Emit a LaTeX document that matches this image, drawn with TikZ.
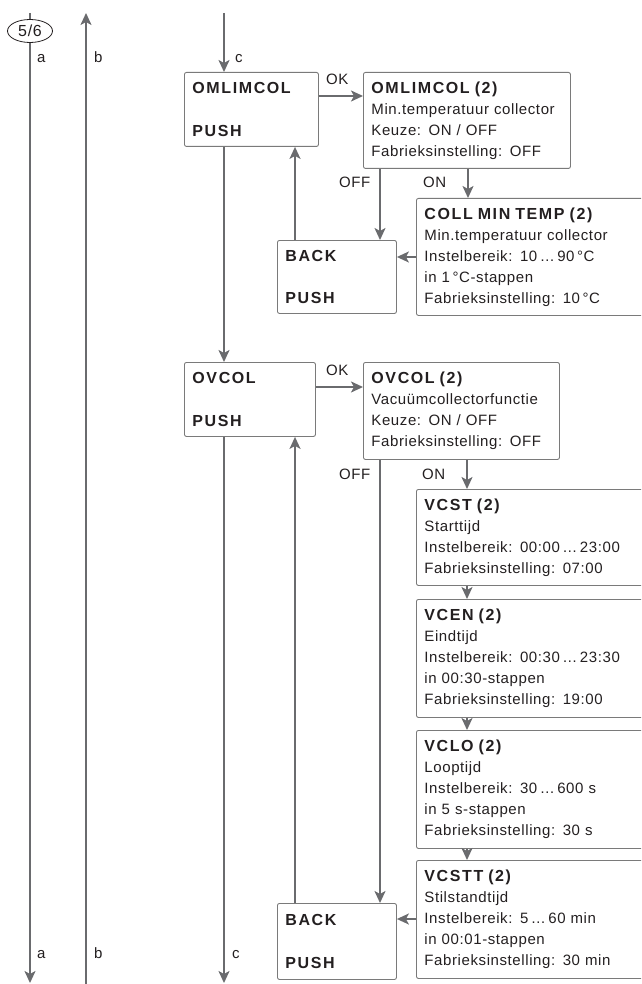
\documentclass[tikz,border=0pt]{standalone}
\usepackage{fontspec}
\setmainfont{Liberation Sans}[LetterSpace=4]
\newfontfamily\hdfont{Liberation Sans}[LetterSpace=10]
\usetikzlibrary{arrows.meta,shapes.geometric}
\definecolor{linegray}{HTML}{6A6B6E}
\definecolor{boxgray}{HTML}{7A7A7A}
\definecolor{txt}{HTML}{231F20}
\newcommand{\boxtitle}[1]{{\hdfont\bfseries\fontsize{16}{21}\selectfont #1}}
\tikzset{
  box/.style={draw=boxgray, line width=0.9pt, rounded corners=2pt, anchor=north west,
    inner xsep=8pt, inner ysep=0pt, align=left, text=txt, font=\fontsize{15}{21}\selectfont},
  arr/.style={draw=linegray, line width=1.9pt, -{Stealth[length=12pt,width=11pt,inset=3pt]}},
  ln/.style={draw=linegray, line width=1.9pt},
  lbl/.style={anchor=base west, inner sep=0pt, text=txt, font=\fontsize{15}{18}\selectfont},
}
\begin{document}
\begin{tikzpicture}[x=1pt,y=-1pt]
\useasboundingbox (0,0) rectangle (641,984);
\clip (0,0) rectangle (641,984);

% helper coordinates
\coordinate (atop) at (30,13);
\coordinate (abot) at (30,983);
\coordinate (btop) at (86,13);
\coordinate (bbot) at (86,990);
\coordinate (ctop) at (224,13);
\coordinate (cbot) at (224,983);
\coordinate (xback) at (295,0);
\coordinate (xoff) at (380,0);
\coordinate (xon) at (468,0);
\coordinate (xon2) at (467,0);
\coordinate (yok1) at (0,96);
\coordinate (yret1) at (0,257);
\coordinate (yok2) at (0,387);
\coordinate (yret2) at (0,919);

% boxes
\node[box, text width=118pt, minimum height=74pt] (omlim) at (184,72)
  {\boxtitle{OMLIMCOL}\\[22pt]\boxtitle{PUSH}};
\node[box, text width=191pt, minimum height=96pt] (omlim2) at (363,72)
  {\boxtitle{OMLIMCOL (2)}\\Min.temperatuur collector\\Keuze: ON / OFF\\Fabrieksinstelling: OFF};
\node[box, text width=103pt, minimum height=73pt] (back1) at (277,240)
  {\boxtitle{BACK}\\[21pt]\boxtitle{PUSH}};
\node[box, text width=224pt, minimum height=117pt] (coll) at (416,198)
  {\boxtitle{COLL MIN TEMP (2)}\\Min.temperatuur collector\\Instelbereik: 10\,…\,90\,°C\\in 1\,°C-stappen\\Fabrieksinstelling: 10\,°C};

\node[box, text width=115pt, minimum height=74pt] (ovcol) at (184,362)
  {\boxtitle{OVCOL}\\[22pt]\boxtitle{PUSH}};
\node[box, text width=180pt, minimum height=97pt] (ovcol2) at (363,362)
  {\boxtitle{OVCOL (2)}\\Vacuümcollectorfunctie\\Keuze: ON / OFF\\Fabrieksinstelling: OFF};
\node[box, text width=224pt, minimum height=96pt] (vcst) at (416,489)
  {\boxtitle{VCST (2)}\\Starttijd\\Instelbereik: 00:00\,…\,23:00\\Fabrieksinstelling: 07:00};
\node[box, text width=224pt, minimum height=118pt] (vcen) at (416,599)
  {\boxtitle{VCEN (2)}\\Eindtijd\\Instelbereik: 00:30\,…\,23:30\\in 00:30-stappen\\Fabrieksinstelling: 19:00};
\node[box, text width=224pt, minimum height=118pt] (vclo) at (416,730)
  {\boxtitle{VCLO (2)}\\Looptijd\\Instelbereik: 30\,…\,600 s\\in 5 s-stappen\\Fabrieksinstelling: 30 s};
\node[box, text width=224pt, minimum height=118pt] (vcstt) at (416,860)
  {\boxtitle{VCSTT (2)}\\Stilstandtijd\\Instelbereik: 5\,…\,60 min\\in 00:01-stappen\\Fabrieksinstelling: 30 min};
\node[box, text width=103pt, minimum height=76pt] (back2) at (277,903)
  {\boxtitle{BACK}\\[22pt]\boxtitle{PUSH}};

% 5/6 ellipse on line a
\node[ellipse, draw=txt, line width=0.8pt, minimum width=45pt, minimum height=23pt, inner sep=0pt,
  text=txt, font=\fontsize{16}{18}\selectfont] (e56) at (30,31) {5/6};

% vertical lines a, b, c
\draw[ln] (atop) -- (e56);
\draw[arr] (e56) -- (abot);
\draw[arr] (bbot) -- (btop);
\draw[arr] (ctop) -- (ctop |- omlim.north);
\draw[arr] (omlim.south -| ctop) -- (ovcol.north -| ctop);
\draw[arr] (ovcol.south -| ctop) -- (cbot);

% section 1 connectors
\draw[arr] (omlim.east |- yok1) -- (omlim2.west |- yok1);
\draw[arr] (back1.north -| xback) -- (omlim.south -| xback);
\draw[arr] (omlim2.south -| xoff) -- (back1.north -| xoff);
\draw[arr] (omlim2.south -| xon) -- (coll.north -| xon);
\draw[arr] (coll.west |- yret1) -- (back1.east |- yret1);

% section 2 connectors
\draw[arr] (ovcol.east |- yok2) -- (ovcol2.west |- yok2);
\draw[arr] (back2.north -| xback) -- (ovcol.south -| xback);
\draw[arr] (ovcol2.south -| xoff) -- (back2.north -| xoff);
\draw[arr] (ovcol2.south -| xon2) -- (vcst.north -| xon2);
\draw[arr] (vcst.south -| xon2) -- (vcen.north -| xon2);
\draw[arr] (vcen.south -| xon2) -- (vclo.north -| xon2);
\draw[arr] (vclo.south -| xon2) -- (vcstt.north -| xon2);
\draw[arr] (vcstt.west |- yret2) -- (back2.east |- yret2);

% labels
\node[lbl] (la1) at (37,63) {a};
\node[lbl] (lb1) at (94,63) {b};
\node[lbl] (lc1) at (235,63) {c};
\node[lbl] (la2) at (37,958) {a};
\node[lbl] (lb2) at (94,958) {b};
\node[lbl] (lc2) at (232,958) {c};
\node[lbl] (ok1) at (326,85) {OK};
\node[lbl] (off1) at (339,188) {OFF};
\node[lbl] (on1) at (423,188) {ON};
\node[lbl] (ok2) at (326,375) {OK};
\node[lbl] (off2) at (339,479) {OFF};
\node[lbl] (on2) at (422,479) {ON};
\end{tikzpicture}
\end{document}
